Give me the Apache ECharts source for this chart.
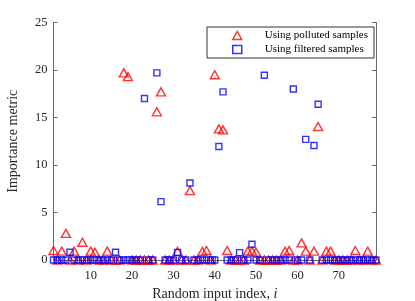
<!DOCTYPE html>
<html>
<head>
<meta charset="utf-8">
<script src="https://cdn.jsdelivr.net/npm/echarts@6/dist/echarts.min.js"></script>
<style>html,body{margin:0;padding:0;background:#fff}#c{width:415px;height:301px}</style>
</head>
<body>
<div id="c"></div>
<script>
// Random input indices 1..79
var indices = [];
for (var k = 1; k <= 79; k++) indices.push(k);

// Importance metric using polluted samples (index 1..79)
var polluted = [
  1.0, 0, 0.93, 2.8, 0, 0.93, 0, 1.87, 0, 0.93,
  0.82, 0, 0, 0.93, 0, 0, 0, 19.7, 19.3, 0,
  0, 0, 0, 0, 0, 15.6, 17.7, 0, 0, 0,
  0.9, 0, 0, 7.3, 0, 0, 0.9, 1.0, 0, 19.5,
  13.8, 13.7, 1.0, 0, 0, 0, 0, 0.93, 0.93, 0.82,
  0, 0, 0, 0, 0, 0, 0.93, 1.0, 0, 0,
  1.8, 0.93, 0, 0.93, 14.05, 0, 0.93, 0.93, 0, 0,
  0, 0, 0, 1.0, 0, 0, 0.93, 0, 0
];

// Importance metric using filtered samples (index 1..79)
var filtered = [
  0, 0, 0, 0, 0.82, 0, 0, 0, 0, 0,
  0, 0, 0, 0, 0, 0.82, 0, 0, 0, 0,
  0, 0, 17.0, 0, 0, 19.7, 6.15, 0, 0, 0,
  0.8, 0, 0, 8.1, 0, 0, 0, 0, 0, 0,
  11.95, 17.7, 0, 0, 0, 0.78, 0, 0, 1.66, 0,
  0, 19.45, 0, 0, 0, 0, 0, 0, 18.0, 0,
  0, 12.7, 0, 12.05, 16.4, 0, 0, 0, 0, 0,
  0, 0, 0, 0, 0, 0, 0, 0, 0
];

var xTicks = [10, 20, 30, 40, 50, 60, 70];
var seriesNames = ['Using polluted samples', 'Using filtered samples'];

function pairs(vals) {
  return indices.map(function (i, n) { return [i, vals[n]]; });
}

var axisCol = '#6a6a6a';
var serif = '"Liberation Serif", "DejaVu Serif", serif';

var chart = echarts.init(document.getElementById('c'), null, {renderer: 'canvas'});
chart.setOption({
  animation: false,
  textStyle: {fontFamily: serif},
  grid: {left: 53.5, right: 39, top: 22.5, bottom: 41, containLabel: false, outerBoundsMode: 'none'},
  legend: {
    orient: 'vertical',
    left: 207, top: 27,
    width: 162,
    padding: [3, 6, 3, 25],
    itemGap: 3,
    itemWidth: 9, itemHeight: 8,
    borderColor: '#333', borderWidth: 1,
    backgroundColor: '#fff',
    textStyle: {fontFamily: serif, fontSize: 11, color: '#000', padding: [0, 0, 0, 18]},
    data: [
      {name: seriesNames[0], icon: 'triangle', itemStyle: {color: 'transparent', borderColor: '#ff0000', borderWidth: 1.5}},
      {name: seriesNames[1], icon: 'rect', itemStyle: {color: 'transparent', borderColor: '#0000ff', borderWidth: 1.5}}
    ]
  },
  xAxis: [{
    type: 'value', min: 1, max: 79,
    name: 'Random input index, {i|i}',
    nameLocation: 'middle', nameGap: 27,
    nameTextStyle: {fontFamily: serif, fontSize: 14, color: '#262626', rich: {i: {fontFamily: serif, fontSize: 14, fontStyle: 'italic', color: '#262626'}}},
    axisLine: {show: true, lineStyle: {color: axisCol, width: 1}},
    axisTick: {show: true, inside: true, length: 4, customValues: xTicks, lineStyle: {color: axisCol}},
    axisLabel: {customValues: xTicks, margin: 9, fontFamily: serif, fontSize: 12.5, color: '#262626'},
    splitLine: {show: false}
  }, {
    type: 'value', min: 1, max: 79, position: 'top',
    axisLine: {show: true, lineStyle: {color: axisCol, width: 1}},
    axisTick: {show: true, inside: true, length: 4, customValues: xTicks, lineStyle: {color: axisCol}},
    axisLabel: {show: false},
    splitLine: {show: false}
  }],
  yAxis: [{
    type: 'value', min: 0, max: 25, interval: 5,
    name: 'Importance metric',
    nameLocation: 'middle', nameGap: 33,
    nameTextStyle: {fontFamily: serif, fontSize: 14, color: '#262626'},
    axisLine: {show: true, lineStyle: {color: axisCol, width: 1}},
    axisTick: {show: true, inside: true, length: 4, lineStyle: {color: axisCol}},
    axisLabel: {margin: 6, fontFamily: serif, fontSize: 12.5, color: '#262626'},
    splitLine: {show: false}
  }, {
    type: 'value', min: 0, max: 25, interval: 5, position: 'right',
    axisLine: {show: true, lineStyle: {color: axisCol, width: 1}},
    axisTick: {show: true, inside: true, length: 4, lineStyle: {color: axisCol}},
    axisLabel: {show: false},
    splitLine: {show: false}
  }],
  series: [{
    name: seriesNames[0], type: 'scatter',
    symbol: 'triangle', symbolSize: [9, 8],
    itemStyle: {color: 'transparent', borderColor: '#ff0000', borderWidth: 1.4},
    data: pairs(polluted), z: 2
  }, {
    name: seriesNames[1], type: 'scatter',
    symbol: 'rect', symbolSize: 6,
    itemStyle: {color: 'transparent', borderColor: '#0000ff', borderWidth: 1.4},
    data: pairs(filtered), z: 3
  }]
});
</script>
</body>
</html>
